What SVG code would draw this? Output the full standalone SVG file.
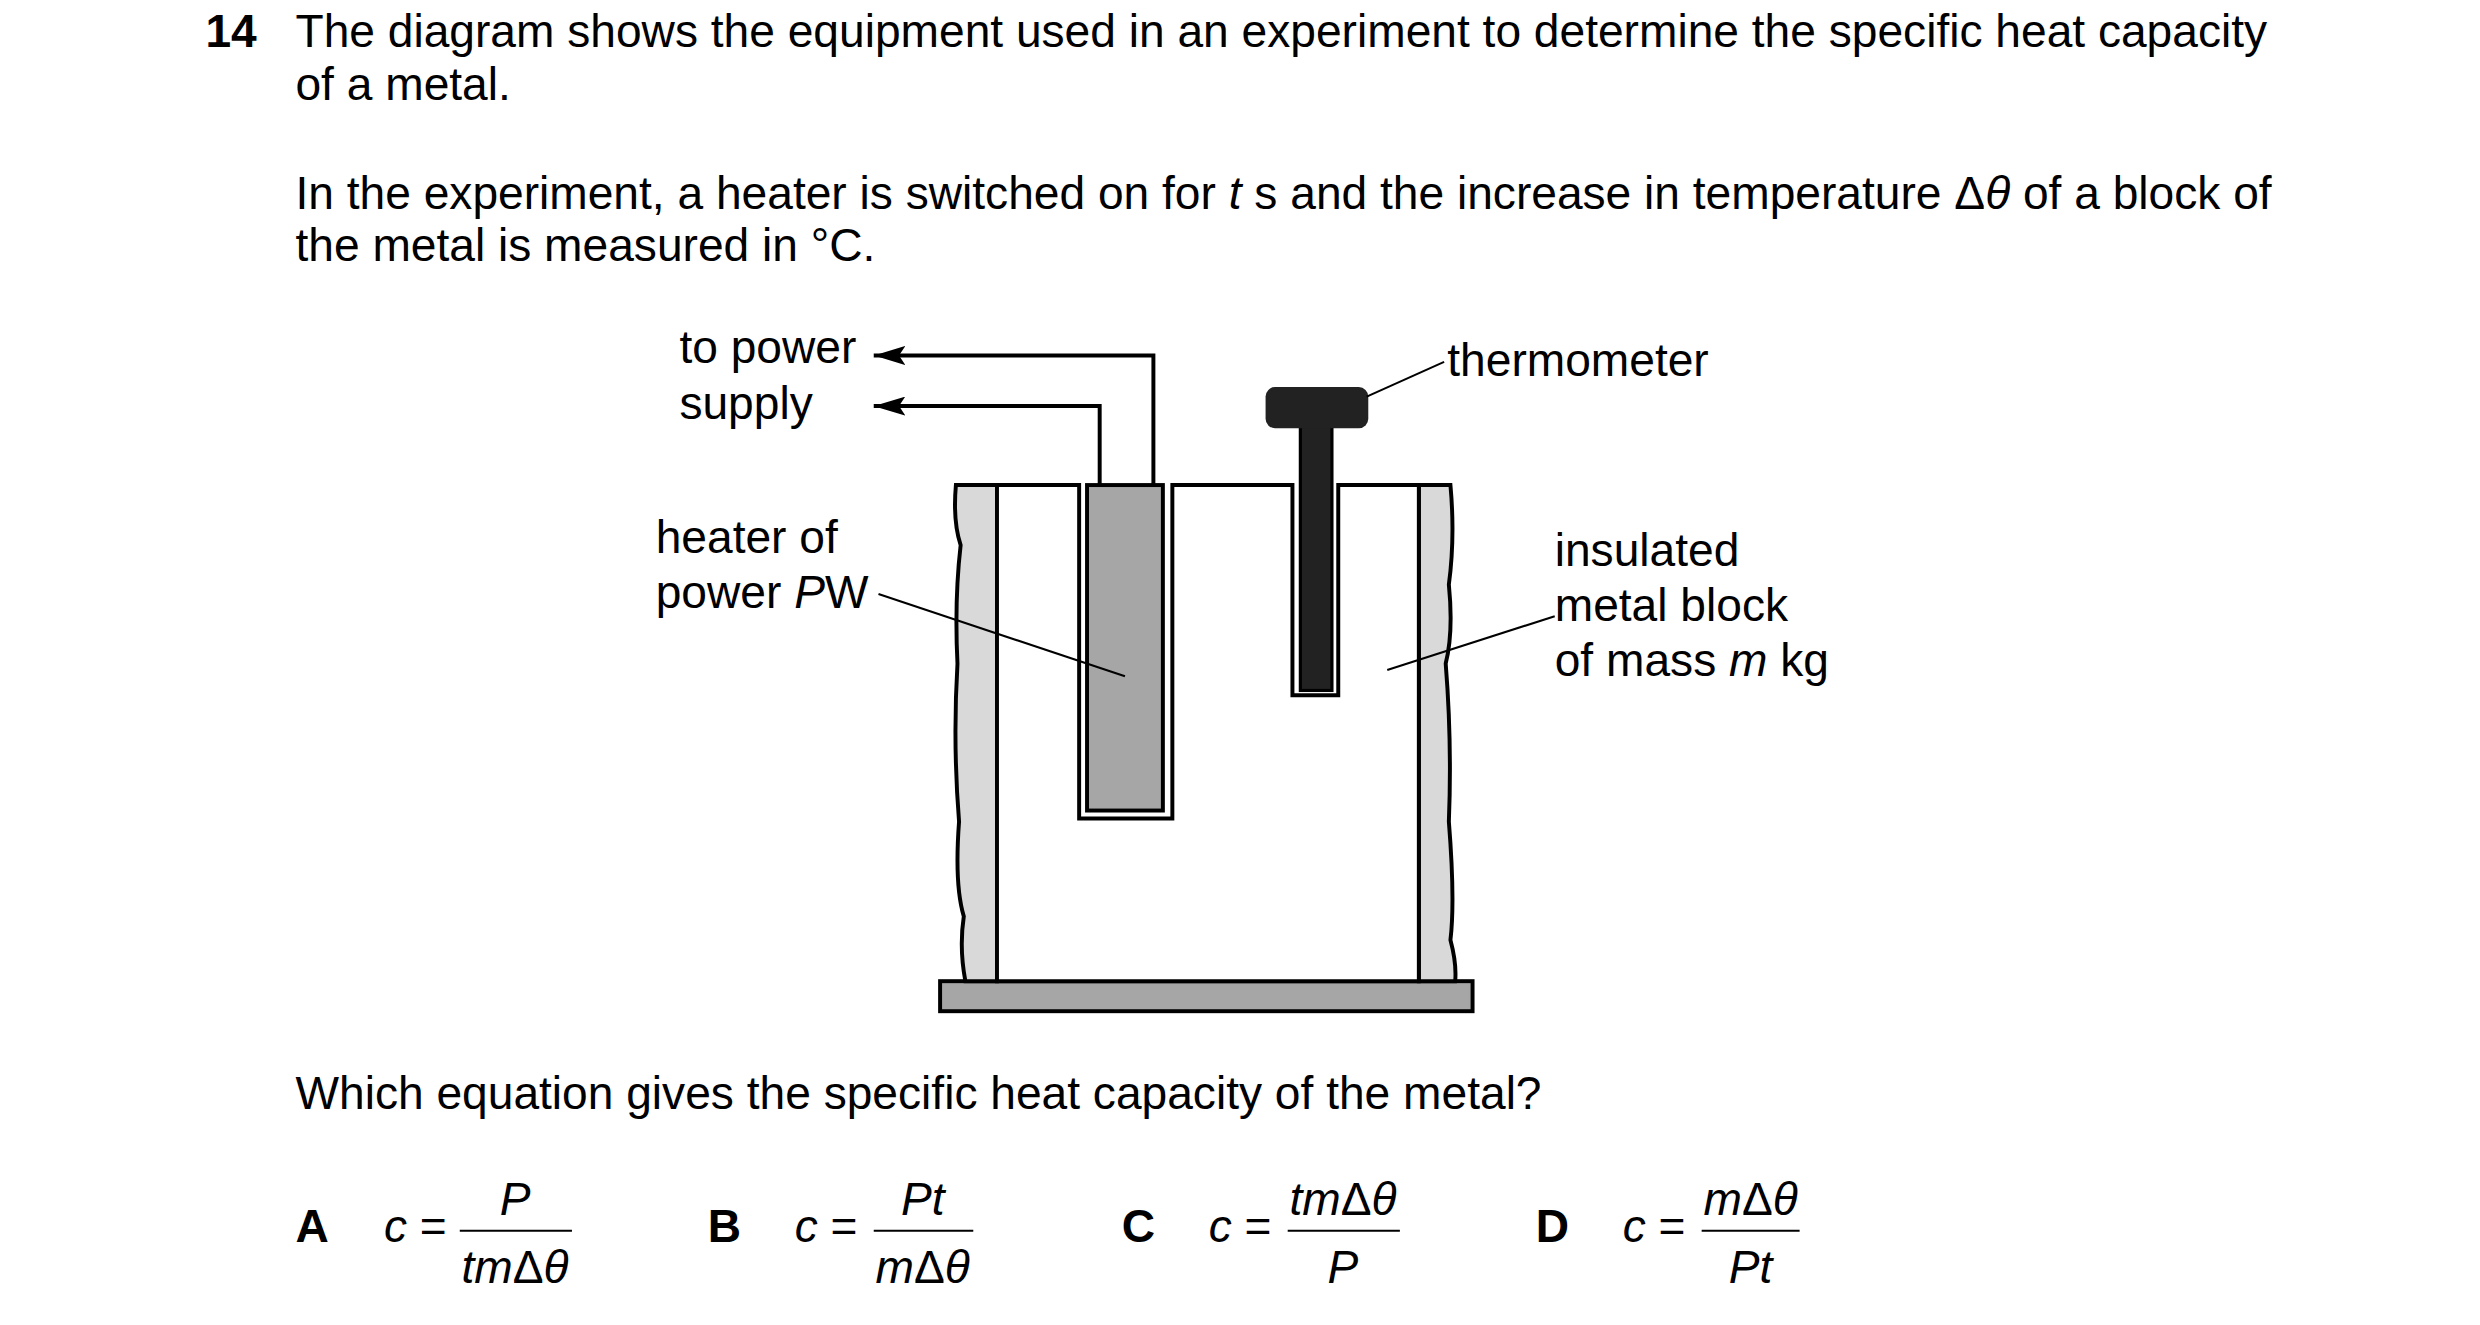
<svg xmlns="http://www.w3.org/2000/svg" width="2480" height="1325" viewBox="0 0 2480 1325">
<style>
text{font-family:"Liberation Sans",Arial,sans-serif;font-size:29.2px;fill:#000}
.b{font-weight:bold}
.i{font-style:italic}
.m{text-anchor:middle}
.s{stroke:#000;stroke-width:2.5;fill:none}
.t{stroke:#000;stroke-width:1.3;fill:none}
</style>
<defs><marker id="ar" markerWidth="20" markerHeight="12" refX="20" refY="6" orient="auto" markerUnits="userSpaceOnUse"><path d="M0,0 L20,6 L0,12 L4,6 Z" fill="#000"/></marker></defs>
<rect width="2480" height="1325" fill="#fff"/>
<g transform="scale(1.58)">
<g id="question">
<text x="130" y="30" class="b">14</text>
<text x="187" y="30">The diagram shows the equipment used in an experiment to determine the specific heat capacity</text>
<text x="187" y="63">of a metal.</text>
<text x="187" y="132">In the experiment, a heater is switched on for <tspan class="i">t</tspan> s and the increase in temperature Δ<tspan class="i">θ</tspan> of a block of</text>
<text x="187" y="165">the metal is measured in °C.</text>
</g>
<g id="base"><rect x="595" y="621" width="337" height="19" fill="#a6a6a6" stroke="#000" stroke-width="2.5"/></g>
<g id="insulation">
<path d="M631,307 L605,307 Q603,330 608,345 Q604,380 606,420 Q603,470 607,520 Q604,560 610,580 Q607,600 611,621 L631,621 Z" fill="#d9d9d9" stroke="#000" stroke-width="2.5"/>
<path d="M898,307 L918,307 Q921,340 917,370 Q920,400 915,420 Q919,470 917,520 Q921,570 918,595 Q922,610 921,621 L898,621 Z" fill="#d9d9d9" stroke="#000" stroke-width="2.5"/>
</g>
<g id="block">
<path d="M631,621 L631,307 L683,307 L683,518 L742,518 L742,307 L818,307 L818,440 L847,440 L847,307 L898,307 L898,621 Z" fill="#fff" stroke="#000" stroke-width="2.5"/>
</g>
<g id="heater"><rect x="688" y="307" width="48" height="206" fill="#a6a6a6" stroke="#000" stroke-width="2.5"/></g>
<g id="thermometer">
<rect x="823" y="262" width="20" height="175" fill="#222" stroke="#000" stroke-width="2"/>
<rect x="801" y="245" width="65" height="26" rx="6" fill="#222"/>
</g>
<g id="connectors">
<path class="s" d="M730,307 V225 H553" marker-end="url(#ar)"/>
<path class="s" d="M696,307 V257 H553" marker-end="url(#ar)"/>
<path class="t" d="M556,376 L712,428"/>
<path class="t" d="M865,251 L914,229"/>
<path class="t" d="M984,390 L878,424"/>
</g>
<g id="labels">
<text x="430" y="230">to power</text>
<text x="430" y="265">supply</text>
<text x="415" y="350">heater of</text>
<text x="415" y="385">power <tspan class="i">P</tspan>W</text>
<text x="916" y="238">thermometer</text>
<text x="984" y="358">insulated</text>
<text x="984" y="393">metal block</text>
<text x="984" y="428">of mass <tspan class="i">m</tspan> kg</text>
</g>
<g id="options">
<text x="187" y="702">Which equation gives the specific heat capacity of the metal?</text>
<text x="187" y="786" class="b">A</text><text x="243" y="786"><tspan class="i">c</tspan> =</text>
<text x="326" y="769" class="m i">P</text><line x1="291" y1="779" x2="362" y2="779" class="t"/><text x="326" y="812" class="m i">tm<tspan font-style="normal">Δ</tspan>θ</text>
<text x="448" y="786" class="b">B</text><text x="503" y="786"><tspan class="i">c</tspan> =</text>
<text x="584" y="769" class="m i">Pt</text><line x1="553" y1="779" x2="616" y2="779" class="t"/><text x="584" y="812" class="m i">m<tspan font-style="normal">Δ</tspan>θ</text>
<text x="710" y="786" class="b">C</text><text x="765" y="786"><tspan class="i">c</tspan> =</text>
<text x="850" y="769" class="m i">tm<tspan font-style="normal">Δ</tspan>θ</text><line x1="815" y1="779" x2="886" y2="779" class="t"/><text x="850" y="812" class="m i">P</text>
<text x="972" y="786" class="b">D</text><text x="1027" y="786"><tspan class="i">c</tspan> =</text>
<text x="1108" y="769" class="m i">m<tspan font-style="normal">Δ</tspan>θ</text><line x1="1077" y1="779" x2="1139" y2="779" class="t"/><text x="1108" y="812" class="m i">Pt</text>
</g>
</g>
</svg>
